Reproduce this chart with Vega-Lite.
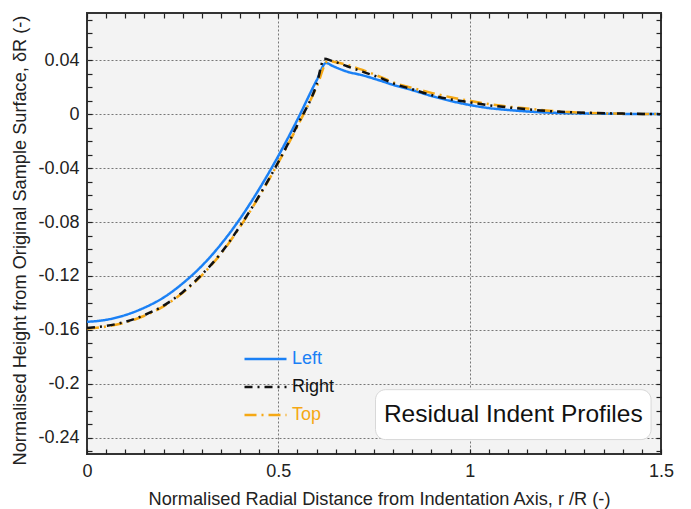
{
  "$schema": "https://vega.github.io/schema/vega-lite/v6.json",
  "width": 574,
  "height": 441,
  "autosize": "none",
  "padding": {"left": 87, "top": 13, "right": 30, "bottom": 55},
  "background": "white",
  "config": {
    "view": {"fill": "#f3f3f3", "stroke": "#333333", "strokeWidth": 2},
    "font": "Liberation Sans",
    "axis": {
      "labelFont": "Liberation Sans",
      "titleFont": "Liberation Sans",
      "labelFontSize": 18,
      "titleFontSize": 18.2,
      "labelColor": "#222222",
      "titleColor": "#222222",
      "titleFontWeight": "normal",
      "domain": false,
      "tickColor": "#222222",
      "tickWidth": 1.2,
      "tickSize": -5,
      "zindex": 1
    }
  },
  "data": {
    "values": [
      {"series": "Left", "r": 0.0, "h": -0.154},
      {"series": "Left", "r": 0.05, "h": -0.1525},
      {"series": "Left", "r": 0.1, "h": -0.149},
      {"series": "Left", "r": 0.15, "h": -0.1435},
      {"series": "Left", "r": 0.2, "h": -0.136},
      {"series": "Left", "r": 0.25, "h": -0.1255},
      {"series": "Left", "r": 0.3, "h": -0.1125},
      {"series": "Left", "r": 0.35, "h": -0.0965},
      {"series": "Left", "r": 0.4, "h": -0.0775},
      {"series": "Left", "r": 0.45, "h": -0.0555},
      {"series": "Left", "r": 0.5, "h": -0.031},
      {"series": "Left", "r": 0.55, "h": -0.004},
      {"series": "Left", "r": 0.6, "h": 0.025},
      {"series": "Left", "r": 0.625, "h": 0.038},
      {"series": "Left", "r": 0.64, "h": 0.036},
      {"series": "Left", "r": 0.68, "h": 0.0315},
      {"series": "Left", "r": 0.72, "h": 0.0288},
      {"series": "Left", "r": 0.77, "h": 0.0245},
      {"series": "Left", "r": 0.8, "h": 0.0217},
      {"series": "Left", "r": 0.85, "h": 0.0178},
      {"series": "Left", "r": 0.9, "h": 0.0135},
      {"series": "Left", "r": 0.95, "h": 0.0098},
      {"series": "Left", "r": 1.0, "h": 0.0068},
      {"series": "Left", "r": 1.05, "h": 0.0045},
      {"series": "Left", "r": 1.1, "h": 0.0031},
      {"series": "Left", "r": 1.15, "h": 0.002},
      {"series": "Left", "r": 1.2, "h": 0.0012},
      {"series": "Left", "r": 1.3, "h": 0.0005},
      {"series": "Left", "r": 1.4, "h": 0.0002},
      {"series": "Left", "r": 1.5, "h": 0.0},
      {"series": "Top", "r": 0.0, "h": -0.159},
      {"series": "Top", "r": 0.05, "h": -0.1575},
      {"series": "Top", "r": 0.1, "h": -0.1545},
      {"series": "Top", "r": 0.15, "h": -0.1495},
      {"series": "Top", "r": 0.2, "h": -0.1425},
      {"series": "Top", "r": 0.25, "h": -0.1325},
      {"series": "Top", "r": 0.3, "h": -0.1195},
      {"series": "Top", "r": 0.35, "h": -0.1035},
      {"series": "Top", "r": 0.4, "h": -0.0835},
      {"series": "Top", "r": 0.45, "h": -0.061},
      {"series": "Top", "r": 0.5, "h": -0.036},
      {"series": "Top", "r": 0.55, "h": -0.009},
      {"series": "Top", "r": 0.6, "h": 0.02},
      {"series": "Top", "r": 0.63, "h": 0.0395},
      {"series": "Top", "r": 0.65, "h": 0.0385},
      {"series": "Top", "r": 0.68, "h": 0.0365},
      {"series": "Top", "r": 0.72, "h": 0.0328},
      {"series": "Top", "r": 0.77, "h": 0.0272},
      {"series": "Top", "r": 0.8, "h": 0.0235},
      {"series": "Top", "r": 0.85, "h": 0.0195},
      {"series": "Top", "r": 0.9, "h": 0.0158},
      {"series": "Top", "r": 0.95, "h": 0.0125},
      {"series": "Top", "r": 1.0, "h": 0.0099},
      {"series": "Top", "r": 1.05, "h": 0.0075},
      {"series": "Top", "r": 1.1, "h": 0.0056},
      {"series": "Top", "r": 1.15, "h": 0.0042},
      {"series": "Top", "r": 1.2, "h": 0.0027},
      {"series": "Top", "r": 1.25, "h": 0.0017},
      {"series": "Top", "r": 1.3, "h": 0.001},
      {"series": "Top", "r": 1.4, "h": 0.0003},
      {"series": "Top", "r": 1.5, "h": 0.0},
      {"series": "Right", "r": 0.0, "h": -0.1585},
      {"series": "Right", "r": 0.05, "h": -0.157},
      {"series": "Right", "r": 0.1, "h": -0.154},
      {"series": "Right", "r": 0.15, "h": -0.149},
      {"series": "Right", "r": 0.2, "h": -0.142},
      {"series": "Right", "r": 0.25, "h": -0.132},
      {"series": "Right", "r": 0.3, "h": -0.119},
      {"series": "Right", "r": 0.35, "h": -0.103},
      {"series": "Right", "r": 0.4, "h": -0.083},
      {"series": "Right", "r": 0.45, "h": -0.0605},
      {"series": "Right", "r": 0.5, "h": -0.0355},
      {"series": "Right", "r": 0.55, "h": -0.008},
      {"series": "Right", "r": 0.6, "h": 0.022},
      {"series": "Right", "r": 0.62, "h": 0.041},
      {"series": "Right", "r": 0.64, "h": 0.0395},
      {"series": "Right", "r": 0.68, "h": 0.0355},
      {"series": "Right", "r": 0.72, "h": 0.0315},
      {"series": "Right", "r": 0.77, "h": 0.0265},
      {"series": "Right", "r": 0.8, "h": 0.0228},
      {"series": "Right", "r": 0.85, "h": 0.0185},
      {"series": "Right", "r": 0.9, "h": 0.0142},
      {"series": "Right", "r": 0.95, "h": 0.011},
      {"series": "Right", "r": 1.0, "h": 0.0088},
      {"series": "Right", "r": 1.05, "h": 0.0066},
      {"series": "Right", "r": 1.1, "h": 0.005},
      {"series": "Right", "r": 1.15, "h": 0.0036},
      {"series": "Right", "r": 1.2, "h": 0.0024},
      {"series": "Right", "r": 1.3, "h": 0.0011},
      {"series": "Right", "r": 1.4, "h": 0.0004},
      {"series": "Right", "r": 1.5, "h": 0.0}
    ]
  },
  "layer": [
    {
      "mark": {"type": "line", "strokeWidth": 2.5, "clip": true, "interpolate": "monotone"},
      "encoding": {
        "x": {
          "field": "r", "type": "quantitative",
          "scale": {"domain": [0, 1.5], "nice": false, "zero": false},
          "axis": {
            "orient": "bottom",
            "title": "Normalised Radial Distance from Indentation Axis, r /R (-)",
            "values": [0,0.05,0.1,0.15,0.2,0.25,0.3,0.35,0.4,0.45,0.5,0.55,0.6,0.65,0.7,0.75,0.8,0.85,0.9,0.95,1,1.05,1.1,1.15,1.2,1.25,1.3,1.35,1.4,1.45,1.5],
            "labelExpr": "abs(datum.value/0.5 - round(datum.value/0.5)) < 1e-6 ? format(datum.value, '~g') : ''",
            "labelPadding": 13,
            "labelFlush": false,
            "titlePadding": 10,
            "titleX": 292,
            "grid": true,
            "gridColor": "#777777",
            "gridDash": [2, 2],
            "gridWidth": 1,
            "gridOpacity": {"condition": {"test": "abs(datum.value/0.5 - round(datum.value/0.5)) < 1e-6 && datum.value > 0.01 && datum.value < 1.49", "value": 1}, "value": 0}
          }
        },
        "y": {
          "field": "h", "type": "quantitative",
          "scale": {"domain": [-0.252, 0.075], "nice": false, "zero": false},
          "axis": {
            "orient": "left",
            "title": "Normalised Height from Original Sample Surface, δR (-)",
            "values": [-0.25,-0.24,-0.23,-0.22,-0.21,-0.2,-0.19,-0.18,-0.17,-0.16,-0.15,-0.14,-0.13,-0.12,-0.11,-0.1,-0.09,-0.08,-0.07,-0.06,-0.05,-0.04,-0.03,-0.02,-0.01,0,0.01,0.02,0.03,0.04,0.05,0.06,0.07],
            "labelExpr": "abs(datum.value/0.04 - round(datum.value/0.04)) < 1e-6 ? replace(format(datum.value, '.2~f'), '\u2212', '-') : ''",
            "labelPadding": 13,
            "labelFlush": false,
            "titlePadding": 8,
            "titleY": 227,
            "grid": true,
            "gridColor": "#777777",
            "gridDash": [2, 2],
            "gridWidth": 1,
            "gridOpacity": {"condition": {"test": "abs(datum.value/0.04 - round(datum.value/0.04)) < 1e-6 && datum.value > -0.245 && datum.value < 0.07", "value": 1}, "value": 0}
          }
        },
        "color": {
          "field": "series", "type": "nominal",
          "scale": {"domain": ["Left", "Right", "Top"], "range": ["#1a80f5", "#111111", "#f5a814"]},
          "legend": {
            "orient": "none",
            "legendX": 156,
            "legendY": 333,
            "title": null,
            "symbolType": "stroke",
            "symbolSize": 1764,
            "symbolStrokeWidth": 2.5,
            "labelFont": "Liberation Sans",
            "labelFontSize": 18,
            "labelOffset": 4,
            "clipHeight": 26,
            "rowPadding": 2,
            "padding": 0,
            "encode": {"labels": {"update": {"fill": {"scale": "color", "field": "value"}}}}
          }
        },
        "strokeDash": {
          "field": "series", "type": "nominal",
          "scale": {"domain": ["Left", "Right", "Top"], "range": [[1, 0], [8, 5, 2, 5], [12, 5, 2, 5]]},
          "legend": {
            "orient": "none",
            "legendX": 156,
            "legendY": 333,
            "title": null,
            "symbolType": "stroke",
            "symbolSize": 1764,
            "symbolStrokeWidth": 2.5,
            "labelFont": "Liberation Sans",
            "labelFontSize": 18,
            "labelOffset": 4,
            "clipHeight": 26,
            "rowPadding": 2,
            "padding": 0,
            "encode": {"labels": {"update": {"fill": {"scale": "color", "field": "value"}}}}
          }
        },
        "order": {"field": "r", "type": "quantitative"}
      }
    },
    {
      "data": {"values": [{"label": "Residual Indent Profiles"}]},
      "mark": {"type": "rect", "fill": "white", "stroke": "#d8d8d8", "strokeWidth": 1, "cornerRadius": 10},
      "encoding": {
        "x": {"datum": 0.754, "type": "quantitative",
          "axis": {
            "orient": "top", "title": null, "labels": false, "grid": false,
            "values": [0,0.05,0.1,0.15,0.2,0.25,0.3,0.35,0.4,0.45,0.5,0.55,0.6,0.65,0.7,0.75,0.8,0.85,0.9,0.95,1,1.05,1.1,1.15,1.2,1.25,1.3,1.35,1.4,1.45,1.5]
          }
        },
        "x2": {"datum": 1.474},
        "y": {"datum": -0.2043, "type": "quantitative",
          "axis": {
            "orient": "right", "title": null, "labels": false, "grid": false,
            "values": [-0.25,-0.24,-0.23,-0.22,-0.21,-0.2,-0.19,-0.18,-0.17,-0.16,-0.15,-0.14,-0.13,-0.12,-0.11,-0.1,-0.09,-0.08,-0.07,-0.06,-0.05,-0.04,-0.03,-0.02,-0.01,0,0.01,0.02,0.03,0.04,0.05,0.06,0.07]
          }
        },
        "y2": {"datum": -0.2413}
      }
    },
    {
      "data": {"values": [{"label": "Residual Indent Profiles"}]},
      "mark": {"type": "text", "font": "Liberation Sans", "fontSize": 24.5, "color": "#111111", "align": "center", "baseline": "middle"},
      "encoding": {
        "x": {"datum": 1.114, "type": "quantitative", "axis": null},
        "y": {"datum": -0.2228, "type": "quantitative", "axis": null},
        "text": {"field": "label"}
      }
    }
  ],
  "resolve": {"axis": {"x": "independent", "y": "independent"}}
}
